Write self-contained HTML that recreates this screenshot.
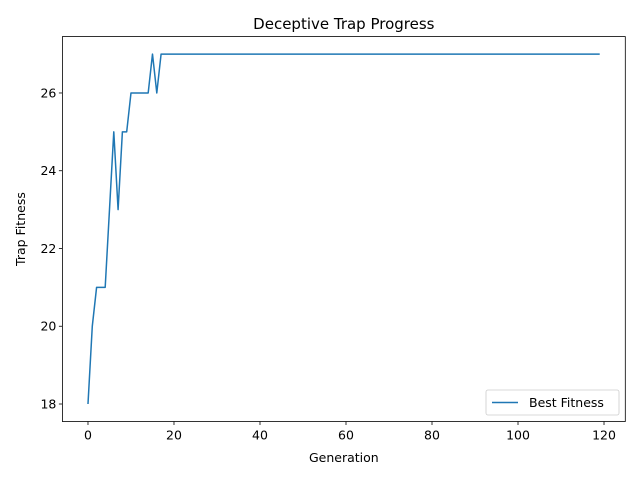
<!DOCTYPE html>
<html><head><meta charset="utf-8"><style>body{margin:0;background:#fff}svg{font-family:"DejaVu Sans","Liberation Sans",sans-serif}</style></head>
<body>
<svg id="c" width="640" height="480" xmlns="http://www.w3.org/2000/svg"></svg>
<script>
const generations = Array.from({length:120},(_,i)=>i);
const bestFitness = [18,20,21,21,21,23,25,23,25,25,26,26,26,26,26,27,26].concat(Array(103).fill(27));
const xTicks = [0,20,40,60,80,100,120];
const yTicks = [18,20,22,24,26];
const L=62.4,R=625.3,T=36.6,B=421.5,xmin=-5.95,xmax=124.95,ymin=17.55,ymax=27.45;
const X=v=>L+(v-xmin)/(xmax-xmin)*(R-L), Y=v=>B-(v-ymin)/(ymax-ymin)*(B-T);
const s=document.getElementById('c'),NS='http://www.w3.org/2000/svg';
function mk(t,a,p){const e=document.createElementNS(NS,t);for(const k in a)e.setAttribute(k,a[k]);(p||s).appendChild(e);return e;}
let pts=generations.map((g,i)=>X(g)+','+Y(bestFitness[i])).join(' ');
let line=mk('polyline',{points:pts,fill:'none',stroke:'#1f77b4','stroke-width':1.5,'stroke-linejoin':'round'});


let fr=mk('rect',{x:L,y:T,width:R-L,height:B-T,fill:'none',stroke:'#000','stroke-width':0.8});


xTicks.forEach(v=>{mk('line',{x1:X(v),x2:X(v),y1:B,y2:B+3.5,stroke:'#000','stroke-width':0.8});
let t=mk('text',{x:X(v),y:B+18,'text-anchor':'middle','font-size':12.5});t.textContent=v;

});
yTicks.forEach(v=>{mk('line',{x1:L-3.5,x2:L,y1:Y(v),y2:Y(v),stroke:'#000','stroke-width':0.8});
let t=mk('text',{x:L-6,y:Y(v)+4.5,'text-anchor':'end','font-size':12.5});t.textContent=v;

});
let tt=mk('text',{x:(L+R)/2,y:29,'text-anchor':'middle','font-size':15});tt.textContent='Deceptive Trap Progress';


let xl=mk('text',{x:(L+R)/2,y:462,'text-anchor':'middle','font-size':12.5});xl.textContent='Generation';


let yl=mk('text',{x:0,y:0,'text-anchor':'middle','font-size':12.5,transform:'translate(25,'+((T+B)/2)+') rotate(-90)'});yl.textContent='Trap Fitness';


let lg=mk('g',{});


mk('rect',{x:486,y:390,width:133,height:25,rx:2,fill:'#fff',stroke:'#ccc','stroke-width':0.8},lg);
mk('line',{x1:492,x2:518,y1:402.5,y2:402.5,stroke:'#1f77b4','stroke-width':1.5},lg);
let lt=mk('text',{x:529,y:407,'font-size':12.5},lg);lt.textContent='Best Fitness';


</script>
</body></html>
